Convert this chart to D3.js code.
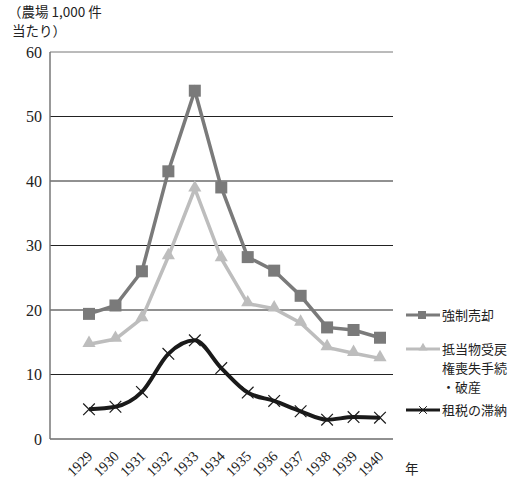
<!DOCTYPE html>
<html><head><meta charset="utf-8">
<script src="https://cdn.jsdelivr.net/npm/d3@7"></script>
<style>body{margin:0;background:#fff}</style>
</head><body>
<script>
const years = ["1929","1930","1931","1932","1933","1934","1935","1936","1937","1938","1939","1940"];
const forcedSale = [19.4,20.7,26.0,41.5,54.0,39.0,28.2,26.1,22.2,17.3,16.9,15.7];
const foreclosure = [14.7,15.5,18.7,28.3,38.8,28.0,21.0,20.2,18.0,14.2,13.3,12.5];
const taxDelinquency = [4.6,5.0,7.3,13.2,15.3,11.0,7.2,5.9,4.3,3.0,3.4,3.3];
const yTicks = [0,10,20,30,40,50,60];
const seriesNames = ["強制売却","抵当物受戻\n権喪失手続\n・破産","租税の滞納"];

const W=526,H=482;
const svg=d3.select("body").append("svg").attr("width",W).attr("height",H);
const serif="'Liberation Serif','DejaVu Serif',serif";
const cjk="'Noto Sans CJK JP',sans-serif";

const x=d3.scalePoint().domain(years).range([89,380]);
const y=d3.scaleLinear().domain([0,60]).range([439,52]);
const left=50,right=393;

// gridlines
svg.append("g").selectAll("line").data(yTicks).join("line")
 .attr("x1",left).attr("x2",right).attr("y1",d=>y(d)).attr("y2",d=>y(d))
 .attr("stroke",d=>d===60?"#777":"#222").attr("stroke-width",1);
svg.append("line").attr("x1",left).attr("x2",left).attr("y1",y(60)).attr("y2",y(0)).attr("stroke","#777").attr("stroke-width",1.5);

// y axis labels
const yAxis=d3.axisLeft(y).tickValues(yTicks).tickSize(0).tickPadding(8);
const ya=svg.append("g").attr("transform",`translate(${left},0)`).call(yAxis).attr("font-family",null);
ya.select(".domain").remove();
ya.selectAll("text").style("font-family",serif).attr("font-size",16).attr("fill","#222");

// x axis labels
const xa=svg.append("g").attr("transform","translate(0,439)").call(d3.axisBottom(x).tickSize(0)).attr("font-family",null);
xa.select(".domain").remove();
xa.selectAll("text").style("font-family",serif).attr("font-size",14.5).attr("fill","#222")
 .attr("text-anchor","end").attr("dy",0).attr("y",0)
 .attr("transform","translate(4,18) rotate(-45)");

svg.append("text").attr("x",405).attr("y",474).attr("font-family",cjk).attr("font-size",13.5).attr("fill","#222").text("年");
svg.append("text").attr("x",8).attr("y",17).attr("font-family",cjk).attr("font-size",13.5).attr("fill","#222").text("（農場 1,000 件");
svg.append("text").attr("x",12).attr("y",36).attr("font-family",cjk).attr("font-size",13.5).attr("fill","#222").text("当たり）");

const data=years.map((yr,i)=>({yr,a:forcedSale[i],b:foreclosure[i],c:taxDelinquency[i]}));

// series B (light)
const lineB=d3.line().x(d=>x(d.yr)).y(d=>y(d.b));
svg.append("path").datum(data).attr("d",lineB).attr("fill","none").attr("stroke","#bdbdbd").attr("stroke-width",3.5);
const tri=d3.symbol().type(d3.symbolTriangle).size(75);
svg.append("g").selectAll("path").data(data).join("path").attr("d",tri)
 .attr("transform",d=>`translate(${x(d.yr)},${y(d.b)-1})`).attr("fill","#bdbdbd");

// series A (dark gray)
const lineA=d3.line().x(d=>x(d.yr)).y(d=>y(d.a));
svg.append("path").datum(data).attr("d",lineA).attr("fill","none").attr("stroke","#7a7a7a").attr("stroke-width",3.5);
svg.append("g").selectAll("rect").data(data).join("rect")
 .attr("x",d=>x(d.yr)-6).attr("y",d=>y(d.a)-6).attr("width",12).attr("height",12).attr("fill","#7a7a7a");

// series C (black)
const lineC=d3.line().x(d=>x(d.yr)).y(d=>y(d.c)).curve(d3.curveMonotoneX);
svg.append("path").datum(data).attr("d",lineC).attr("fill","none").attr("stroke","#1a1a1a").attr("stroke-width",4);
const cross=d3.symbol().type(d3.symbolX).size(90);
svg.append("g").selectAll("path").data(data).join("path").attr("d",cross)
 .attr("transform",d=>`translate(${x(d.yr)},${y(d.c)})`).attr("fill","none").attr("stroke","#1a1a1a").attr("stroke-width",1.2);

// legend
const lg=svg.append("g");
const lx1=406,lx2=440,tx=442;
lg.append("line").attr("x1",lx1).attr("x2",lx2).attr("y1",315).attr("y2",315).attr("stroke","#7a7a7a").attr("stroke-width",3);
lg.append("rect").attr("x",418).attr("y",311).attr("width",8).attr("height",8).attr("fill","#7a7a7a");
lg.append("line").attr("x1",lx1).attr("x2",lx2).attr("y1",349).attr("y2",349).attr("stroke","#bdbdbd").attr("stroke-width",3);
lg.append("path").attr("d",d3.symbol().type(d3.symbolTriangle).size(35)).attr("transform","translate(423,348)").attr("fill","#bdbdbd");
lg.append("line").attr("x1",lx1).attr("x2",lx2).attr("y1",410).attr("y2",410).attr("stroke","#1a1a1a").attr("stroke-width",3);
lg.append("path").attr("d",d3.symbol().type(d3.symbolX).size(40)).attr("transform","translate(423,410)").attr("fill","none").attr("stroke","#1a1a1a").attr("stroke-width",1);

const legendY=[320,354,415];
seriesNames.forEach((n,i)=>{
  n.split("\n").forEach((ln,j)=>lg.append("text").attr("font-family",cjk).attr("font-size",13)
    .attr("fill","#222").attr("x",tx).attr("y",legendY[i]+j*19).text(ln));
});
</script>
</body></html>
